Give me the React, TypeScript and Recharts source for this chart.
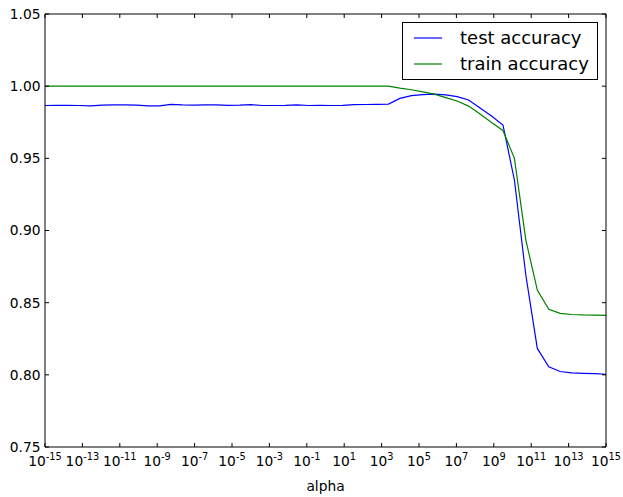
import React from 'react';
import { LineChart, Line, XAxis, YAxis, Legend, Label } from 'recharts';

// log10(alpha) for the 50 alpha values (logspace from 1e-15 to 1e15)
const alphaExponents = [
  -15, -14.388, -13.776, -13.163, -12.551, -11.939, -11.327, -10.714, -10.102, -9.49,
  -8.878, -8.265, -7.653, -7.041, -6.429, -5.816, -5.204, -4.592, -3.98, -3.367,
  -2.755, -2.143, -1.531, -0.918, -0.306, 0.306, 0.918, 1.531, 2.143, 2.755,
  3.367, 3.98, 4.592, 5.204, 5.816, 6.429, 7.041, 7.653, 8.265, 8.878,
  9.49, 10.102, 10.714, 11.327, 11.939, 12.551, 13.163, 13.776, 14.388, 15,
];

const testAccuracy = [
  0.9866, 0.9867, 0.9867, 0.9866, 0.9863, 0.9869, 0.987, 0.987, 0.9869, 0.9863,
  0.9864, 0.9874, 0.987, 0.9869, 0.987, 0.9871, 0.9867, 0.9868, 0.9872, 0.9866,
  0.9866, 0.9867, 0.9871, 0.9866, 0.9867, 0.9866, 0.9867, 0.9872, 0.9873, 0.9874,
  0.9876, 0.9915, 0.9935, 0.9942, 0.9945, 0.9939, 0.9928, 0.9904, 0.9849, 0.9793,
  0.9731, 0.935, 0.869, 0.8183, 0.8056, 0.8023, 0.8013, 0.801, 0.8008, 0.8004,
];

const trainAccuracy = [
  1.0, 1.0, 1.0, 1.0, 1.0, 1.0, 1.0, 1.0, 1.0, 1.0,
  1.0, 1.0, 1.0, 1.0, 1.0, 1.0, 1.0, 1.0, 1.0, 1.0,
  1.0, 1.0, 1.0, 1.0, 1.0, 1.0, 1.0, 1.0, 1.0, 1.0,
  1.0, 0.9986, 0.9975, 0.996, 0.9945, 0.9921, 0.9897, 0.9862, 0.9807, 0.9748,
  0.9693, 0.95, 0.8934, 0.8587, 0.8454, 0.8426, 0.8418, 0.8415, 0.8414, 0.8412,
];

const xTicks = [-15, -13, -11, -9, -7, -5, -3, -1, 1, 3, 5, 7, 9, 11, 13, 15];
const yTicks = [0.75, 0.8, 0.85, 0.9, 0.95, 1.0, 1.05];
const seriesNames = ['test accuracy', 'train accuracy'];
const seriesColors = ['#0000ff', '#008000'];
const xLabel = 'alpha';

const data = alphaExponents.map((e, i) => ({
  logAlpha: e,
  test: testAccuracy[i],
  train: trainAccuracy[i],
}));

const FONT = "'DejaVu Sans', sans-serif";
const AX = '#000';
const TL = 4;

const BottomTick = (props: any) => {
  const { x, y, payload } = props;
  return (
    <g>
      <line x1={x} x2={x} y1={y} y2={y - TL} stroke={AX} strokeWidth={1} />
      <text x={x} y={y + 19} textAnchor="middle" fontFamily={FONT} fontSize={13.8} fill="#000">
        10
        <tspan dy={-6} fontSize={9.8}>{String(payload.value)}</tspan>
      </text>
    </g>
  );
};

const TopTick = (props: any) => {
  const { x, y } = props;
  return <line x1={x} x2={x} y1={y} y2={y + TL} stroke={AX} strokeWidth={1} />;
};

const LeftTick = (props: any) => {
  const { x, y, payload } = props;
  return (
    <g>
      <line x1={x} x2={x + TL} y1={y} y2={y} stroke={AX} strokeWidth={1} />
      <text x={x - 4.5} y={y} dy="0.36em" textAnchor="end" fontFamily={FONT} fontSize={13.8} fill="#000">
        {Number(payload.value).toFixed(2)}
      </text>
    </g>
  );
};

const RightTick = (props: any) => {
  const { x, y } = props;
  return <line x1={x} x2={x - TL} y1={y} y2={y} stroke={AX} strokeWidth={1} />;
};

const LegendBox = () => (
  <svg width={196} height={58} style={{ display: 'block' }}>
    <rect x={0.5} y={0.5} width={195} height={57} fill="#fff" stroke="#000" strokeWidth={1} />
    {seriesNames.map((n, i) => (
      <g key={n}>
        <line x1={12} x2={40} y1={16 + i * 26} y2={16 + i * 26} stroke={seriesColors[i]} strokeWidth={1.2} />
        <text x={58} y={16 + i * 26 + 6} fontFamily={FONT} fontSize={18} fill="#000">
          {n}
        </text>
      </g>
    ))}
  </svg>
);

export default function App() {
  return (
    <div style={{ position: 'absolute', left: 0, top: 0, width: 623, height: 497, background: '#fff' }}>
      <LineChart width={623} height={497} data={data} margin={{ top: 0, right: 0, bottom: 0, left: 0 }}>
        <XAxis
          xAxisId="bottom"
          dataKey="logAlpha"
          type="number"
          domain={[-15, 15]}
          ticks={xTicks}
          interval={0}
          orientation="bottom"
          height={50}
          tickSize={0}
          tickMargin={0}
          tickLine={false}
          axisLine={{ stroke: AX, strokeWidth: 1 }}
          tick={<BottomTick />}
          allowDataOverflow
        >
          <Label value={xLabel} position="insideBottom" offset={6} fill="#000" fontFamily={FONT} fontSize={13.8} />
        </XAxis>
        <XAxis
          xAxisId="top"
          dataKey="logAlpha"
          type="number"
          domain={[-15, 15]}
          ticks={xTicks}
          interval={0}
          orientation="top"
          height={14}
          tickSize={0}
          tickMargin={0}
          tickLine={false}
          axisLine={{ stroke: AX, strokeWidth: 1 }}
          tick={<TopTick />}
          allowDataOverflow
        />
        <YAxis
          yAxisId="left"
          type="number"
          domain={[0.75, 1.05]}
          ticks={yTicks}
          interval={0}
          orientation="left"
          width={45}
          tickSize={0}
          tickMargin={0}
          tickLine={false}
          axisLine={{ stroke: AX, strokeWidth: 1 }}
          tick={<LeftTick />}
          allowDataOverflow
        />
        <YAxis
          yAxisId="right"
          type="number"
          domain={[0.75, 1.05]}
          ticks={yTicks}
          interval={0}
          orientation="right"
          width={17}
          tickSize={0}
          tickMargin={0}
          tickLine={false}
          axisLine={{ stroke: AX, strokeWidth: 1 }}
          tick={<RightTick />}
          allowDataOverflow
        />
        <Line
          xAxisId="bottom"
          yAxisId="left"
          dataKey="test"
          name={seriesNames[0]}
          stroke={seriesColors[0]}
          strokeWidth={1.2}
          dot={false}
          activeDot={false}
          isAnimationActive={false}
        />
        <Line
          xAxisId="bottom"
          yAxisId="left"
          dataKey="train"
          name={seriesNames[1]}
          stroke={seriesColors[1]}
          strokeWidth={1.2}
          dot={false}
          activeDot={false}
          isAnimationActive={false}
        />
        <Legend
          layout="vertical"
          verticalAlign="middle"
          align="center"
          content={<LegendBox />}
          wrapperStyle={{ position: 'absolute', left: 402, top: 22, width: 196, height: 58 }}
        />
      </LineChart>
    </div>
  );
}
